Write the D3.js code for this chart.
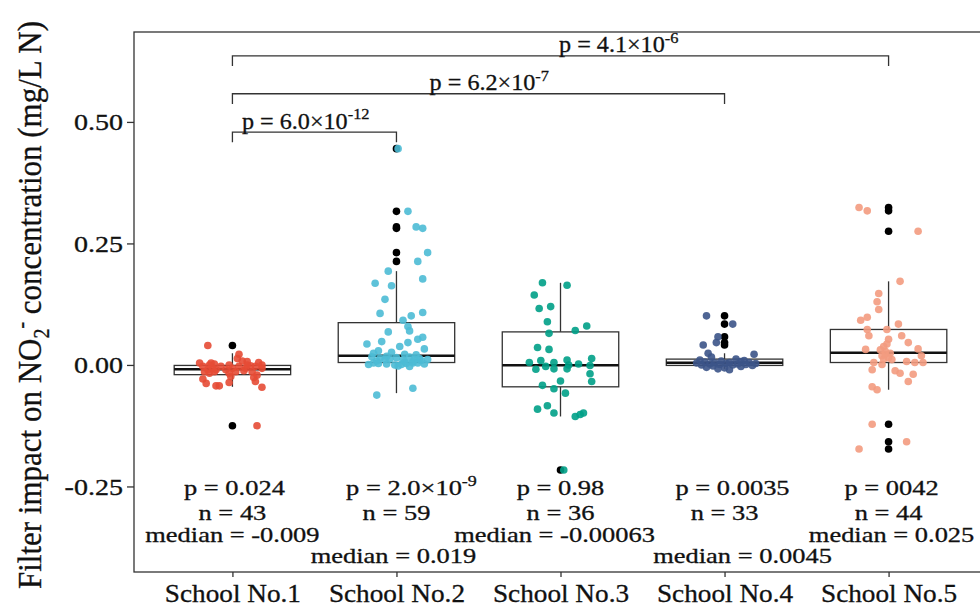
<!DOCTYPE html>
<html><head><meta charset="utf-8">
<script src="https://cdn.jsdelivr.net/npm/d3@7"></script>
<style>html,body{margin:0;padding:0;background:#fff;} svg{display:block;} text{stroke:#111;stroke-width:0.3px;}</style>
</head><body>
<div id="chart"></div>
<script>
// ---------------- data ----------------
const schools = ["School No.1","School No.2","School No.3","School No.4","School No.5"];
const colors = ["#E64B35","#4DBBD5","#00A087","#3C5488","#F39B7F"];
const yTicks = [-0.25, 0, 0.25, 0.5];

// box statistics
const q1 = [-0.020, 0.005, -0.045, -0.001, 0.005];
const med = [-0.009, 0.019, -0.00063, 0.0045, 0.025];
const q3 = [-0.001, 0.087, 0.068, 0.012, 0.073];
const whiskLo = [-0.045, -0.058, -0.106, -0.008, -0.051];
const whiskHi = [0.024, 0.193, 0.169, 0.024, 0.172];
const outliers = [
  [0.040, -0.125],
  [0.445, 0.316, 0.284, 0.281, 0.231, 0.213],
  [-0.216],
  [0.101, 0.084, 0.058, 0.046, 0.041],
  [0.324, 0.317, 0.275, -0.122, -0.158, -0.173]
];

// jittered observations: values and jitter offsets (in category units)
const vals1 = [0.040,0.022,0.013,0.004,0.004,0.002,0.000,0.008,0.007,0.005,0.000,-0.007,-0.003,-0.002,-0.007,-0.003,-0.007,-0.010,-0.003,-0.010,-0.007,-0.010,-0.003,-0.014,-0.017,-0.014,-0.017,-0.014,-0.012,-0.014,-0.021,-0.026,-0.029,-0.038,-0.043,-0.043,-0.036,-0.034,-0.046,-0.125,0.000,-0.024,0.000];
const jit1 = [-0.15,0.04,0.03,-0.2,-0.13,-0.11,-0.02,0.06,0.09,0.16,0.18,0.18,0.14,0.11,0.08,0.04,0.0,-0.04,-0.07,-0.1,-0.12,-0.15,-0.18,-0.17,-0.14,-0.11,-0.02,0.02,0.07,0.12,0.15,0.13,-0.18,-0.16,-0.1,-0.08,-0.02,0.14,0.18,0.15,-0.14,-0.01,0.09];

const vals2 = [0.445,0.316,0.284,0.281,0.231,0.213,0.193,0.168,0.163,0.177,0.135,0.106,0.108,0.101,0.092,0.079,0.070,0.068,0.057,0.053,0.048,0.043,0.046,0.033,0.029,0.026,
  0.022,0.024,0.021,0.038,
  0.017,0.014,0.011,0.012,0.015,0.010,0.016,0.012,0.013,0.011,
  0.008,0.006,0.009,0.018,0.007,
  0.004,0.003,0.002,0.000,-0.002,0.001,0.003,0.004,0.002,
  -0.062,-0.048,
  0.001,-0.003,0.004];
const jit2 = [0.01,0.07,0.12,0.16,0.19,0.13,-0.05,-0.13,-0.03,0.16,-0.07,-0.10,0.16,0.09,0.04,0.07,0.08,-0.05,0.16,0.13,-0.09,-0.18,0.07,0.17,-0.11,-0.03,
  0.05,-0.14,0.12,0.02,
  -0.15,-0.10,-0.07,-0.04,0.0,0.04,0.08,0.11,0.14,0.19,
  -0.12,0.05,0.15,-0.06,0.10,
  -0.14,-0.11,-0.06,-0.01,0.01,0.03,0.06,0.10,0.17,
  -0.12,0.10,
  -0.17,0.08,0.13];

const vals3 = [0.169,0.164,0.144,0.116,0.120,0.089,0.080,0.071,0.065,0.036,0.032,0.013,0.005,0.009,0.005,0.010,-0.003,-0.009,-0.008,-0.008,0.000,-0.001,-0.018,-0.034,-0.033,-0.042,-0.049,-0.058,-0.091,-0.084,-0.099,-0.106,-0.102,-0.099,-0.216,0.002];
const jit3 = [-0.11,0.04,-0.16,-0.13,-0.06,-0.08,0.16,0.09,-0.07,-0.14,-0.07,0.19,-0.19,-0.12,-0.04,0.04,-0.09,-0.15,-0.04,0.04,0.05,0.18,0.18,0.19,0.0,-0.11,-0.04,0.03,-0.14,-0.08,-0.04,0.09,0.12,0.14,0.02,0.11];

const vals4 = [0.101,0.084,0.058,0.046,0.041,0.024,0.022,0.016,0.012,0.010,0.009,0.008,0.007,0.006,0.005,0.005,0.0045,0.004,0.003,0.003,0.002,0.002,0.001,0.001,0.000,0.000,-0.001,-0.002,-0.003,-0.005,-0.006,-0.008,-0.010];
const jit4 = [-0.11,0.05,-0.04,-0.05,-0.13,-0.10,0.18,-0.08,0.07,-0.15,0.12,-0.02,0.10,-0.12,0.03,0.15,-0.06,-0.17,0.01,0.19,-0.09,0.08,-0.03,0.13,-0.14,0.05,0.17,-0.07,0.10,-0.11,0.0,-0.04,0.03];

const vals5 = [0.324,0.317,0.275,0.172,0.147,0.130,0.114,0.092,0.098,0.084,0.073,0.073,0.060,0.060,0.053,0.046,0.043,0.038,0.031,0.028,0.032,0.033,0.019,0.019,0.015,0.011,0.012,0.005,0.001,0.007,0.005,0.005,-0.010,-0.012,-0.017,-0.019,-0.034,-0.045,-0.051,-0.122,-0.158,-0.173,0.024,0.022];
const jit5 = [-0.18,-0.13,0.18,0.07,-0.06,-0.07,-0.06,-0.17,-0.13,0.06,-0.13,-0.01,-0.12,0.08,0.0,0.12,-0.01,-0.03,-0.05,-0.02,-0.14,0.18,0.20,-0.04,0.0,0.02,-0.03,-0.09,-0.04,0.11,0.16,0.21,-0.10,0.04,0.07,0.15,0.12,-0.10,-0.07,-0.10,0.11,-0.18,0.01,-0.02];

const allVals = [vals1, vals2, vals3, vals4, vals5];
const allJit = [jit1, jit2, jit3, jit4, jit5];

// annotations
const pBase = ["p = 0.024", "p = 2.0\u00D710", "p = 0.98", "p = 0.0035", "p = 0042"];
const pExp  = ["", "-9", "", "", ""];
const nCounts = [43, 59, 36, 33, 44];
const medianText = ["-0.009", "0.019", "-0.00063", "0.0045", "0.025"];
const medianRow = [0, 1, 0, 1, 0];
const annotRowY = [-0.267, -0.319, -0.364, -0.407]; // p row, n row, median row A, median row B

// pairwise comparison brackets
const brFrom = [0, 0, 0];
const brTo = [1, 3, 4];
const brY = [0.479, 0.558, 0.636];
const brTip = 0.021;
const brBase = ["p = 6.0\u00D710", "p = 6.2\u00D710", "p = 4.1\u00D710"];
const brExp = ["-12", "-7", "-6"];
const brLabelAt = [0.447, 1.566, 2.355]; // label centre, in category units

const yDomain = [-0.426, 0.685];

// ---------------- drawing ----------------
const W = 980, H = 608;
const L = 134, R = 987, T = 32, B = 572;
const FONT = "'Liberation Serif','Times New Roman',serif";
const INK = "#333";
// small horizontal nudges of the per-school labels (px), as placed in the original
const pNudge = [2, 15, 0, 8, 3];
const medNudge = [0, -3, -6, 18, 3];

const svg = d3.select("#chart").append("svg").attr("width", W).attr("height", H)
  .style("font-family", FONT);

const x = d3.scalePoint().domain(schools).range([L, R]).padding(0.6);
const step = x.step();
const y = d3.scaleLinear().domain(yDomain).range([B, T]);
const xi = i => x(schools[0]) + i * step;

function sText(g, px, py, size, anchor, sx, base, exp) {
  const t = g.append("text")
    .attr("transform", `translate(${px},${py}) scale(${sx},1)`)
    .attr("font-size", size).attr("text-anchor", anchor).attr("fill", "#111");
  t.append("tspan").text(base);
  if (exp) t.append("tspan").attr("font-size", size * 0.68).attr("dy", -size * 0.42).text(exp);
  return t;
}

const plot = svg.append("g");
const boxHalf = 0.355 * step;

// boxplots
schools.forEach((s, i) => {
  const cx = x(s);
  const g = plot.append("g");
  g.append("line").attr("x1", cx).attr("x2", cx).attr("y1", y(q3[i])).attr("y2", y(whiskHi[i]))
    .attr("stroke", INK).attr("stroke-width", 1.3);
  g.append("line").attr("x1", cx).attr("x2", cx).attr("y1", y(q1[i])).attr("y2", y(whiskLo[i]))
    .attr("stroke", INK).attr("stroke-width", 1.3);
  g.append("rect").attr("x", cx - boxHalf).attr("width", 2 * boxHalf)
    .attr("y", y(q3[i])).attr("height", y(q1[i]) - y(q3[i]))
    .attr("fill", "#fff").attr("stroke", INK).attr("stroke-width", 1.3);
  g.append("line").attr("x1", cx - boxHalf).attr("x2", cx + boxHalf).attr("y1", y(med[i])).attr("y2", y(med[i]))
    .attr("stroke", "#111").attr("stroke-width", 2.6);
  g.selectAll("circle.out").data(outliers[i]).join("circle").attr("class", "out")
    .attr("cx", cx).attr("cy", d => y(d)).attr("r", 3.8).attr("fill", "#000");
});

// jitter points
schools.forEach((s, i) => {
  const pts = allVals[i].map((v, k) => ({v, j: allJit[i][k]}));
  plot.append("g").selectAll("circle").data(pts).join("circle")
    .attr("cx", d => x(s) + d.j * step).attr("cy", d => y(d.v)).attr("r", 3.8)
    .attr("fill", colors[i]).attr("fill-opacity", 0.9);
});

// brackets
brFrom.forEach((f, k) => {
  const x1 = xi(f), x2 = xi(brTo[k]), yy = y(brY[k]), yt = y(brY[k] - brTip);
  plot.append("path").attr("d", `M${x1},${yt}V${yy}H${x2}V${yt}`)
    .attr("fill", "none").attr("stroke", INK).attr("stroke-width", 1.3);
  sText(plot, xi(brLabelAt[k]), yy - 3.5, 23, "middle", 1.05, brBase[k], brExp[k]);
});

// per-school annotations
schools.forEach((s, i) => {
  const cx = x(s);
  sText(plot, cx + pNudge[i], y(annotRowY[0]), 21, "middle", 1.26, pBase[i], pExp[i]);
  sText(plot, cx, y(annotRowY[1]), 21, "middle", 1.26, "n = " + nCounts[i], "");
  sText(plot, cx + medNudge[i], y(annotRowY[2 + medianRow[i]]), 21, "middle", 1.26, "median = " + medianText[i], "");
});

// panel border
svg.append("rect").attr("x", L).attr("y", T).attr("width", R - L).attr("height", B - T)
  .attr("fill", "none").attr("stroke", INK).attr("stroke-width", 1.3);

// axes
const ya = svg.append("g").attr("transform", `translate(${L},0)`)
  .call(d3.axisLeft(y).tickValues(yTicks).tickFormat(d => d.toFixed(2)).tickSize(7));
ya.select(".domain").remove();
ya.selectAll(".tick line").attr("stroke", INK).attr("stroke-width", 1.3);
ya.selectAll(".tick text").attr("x", null).attr("dy", null)
  .attr("transform", "translate(-11,8) scale(1.22,1)")
  .attr("font-size", 23).attr("font-family", FONT).attr("fill", "#111");

const xa = svg.append("g").attr("transform", `translate(0,${B})`)
  .call(d3.axisBottom(x).tickSize(5));
xa.select(".domain").remove();
xa.selectAll(".tick line").attr("stroke", INK).attr("stroke-width", 1.3);
xa.selectAll(".tick text").attr("y", null).attr("dy", null)
  .attr("transform", "translate(0,30) scale(1.09,1)")
  .attr("font-size", 25).attr("font-family", FONT).attr("fill", "#111");

// y title
const yt = svg.append("text")
  .attr("transform", "translate(41,305) rotate(-90) scale(1,1.12)")
  .attr("text-anchor", "middle").attr("font-size", 31).attr("fill", "#111");
yt.append("tspan").text("Filter impact on NO");
yt.append("tspan").attr("font-size", 20).attr("dy", 7).text("2");
yt.append("tspan").attr("font-size", 20).attr("dy", -18).text("-");
yt.append("tspan").attr("dy", 11).text(" concentration (mg/L N)");
</script>
</body></html>
